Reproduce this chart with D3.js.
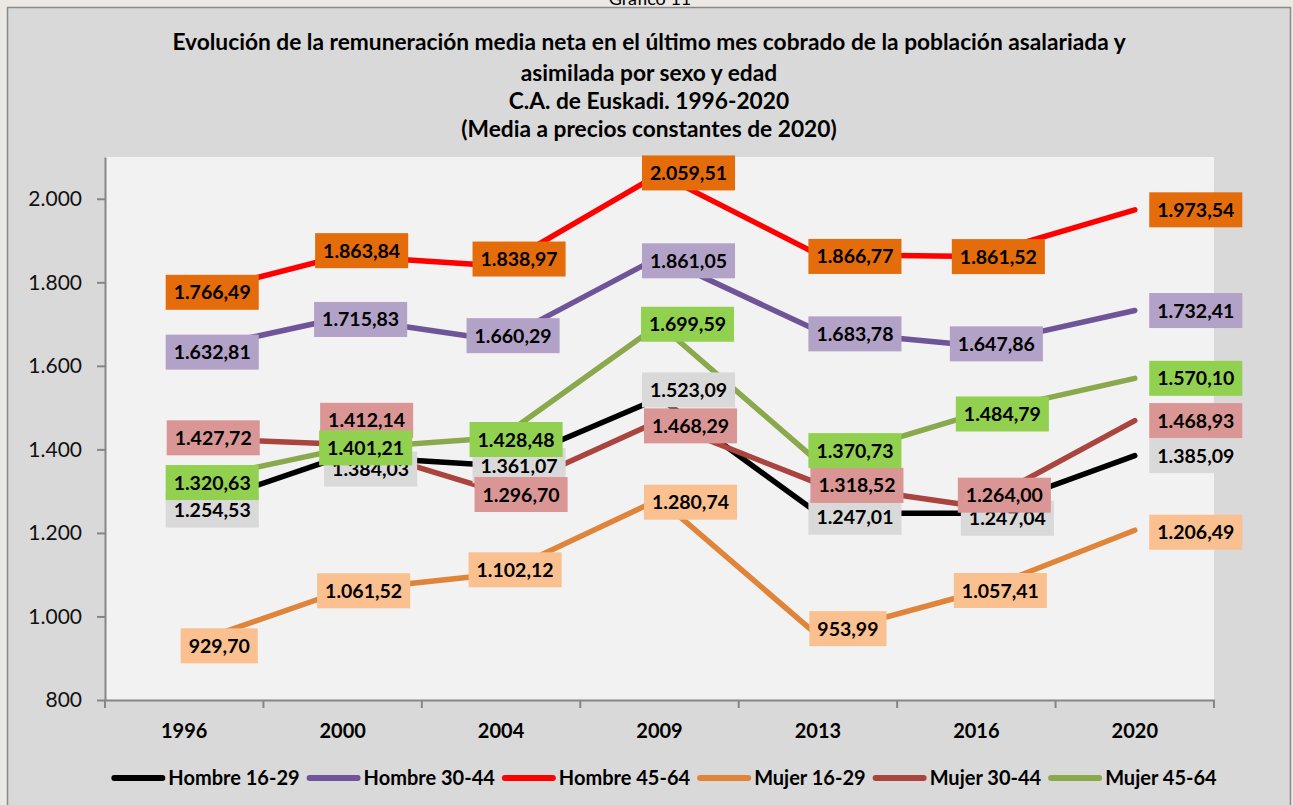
<!DOCTYPE html>
<html><head><meta charset="utf-8">
<script src="https://cdn.jsdelivr.net/npm/d3@7"></script>
<style>body{margin:0;background:#ece9e4;} svg{display:block}</style>
</head><body><svg id="c" width="1293" height="805"></svg>
<script>
// ---------- DATA ----------
const years = ["1996","2000","2004","2009","2013","2016","2020"];
const seriesNames = ["Hombre 16-29","Hombre 30-44","Hombre 45-64","Mujer 16-29","Mujer 30-44","Mujer 45-64"];
const hombre1629 = [1254.53,1384.03,1361.07,1523.09,1247.01,1247.04,1385.09];
const hombre3044 = [1632.81,1715.83,1660.29,1861.05,1683.78,1647.86,1732.41];
const hombre4564 = [1766.49,1863.84,1838.97,2059.51,1866.77,1861.52,1973.54];
const mujer1629  = [929.70,1061.52,1102.12,1280.74,953.99,1057.41,1206.49];
const mujer3044  = [1427.72,1412.14,1296.70,1468.29,1318.52,1264.00,1468.93];
const mujer4564  = [1320.63,1401.21,1428.48,1699.59,1370.73,1484.79,1570.10];
const seriesValues = [hombre1629,hombre3044,hombre4564,mujer1629,mujer3044,mujer4564];
const yTicks = [800,1000,1200,1400,1600,1800,2000];
const titleLines = [
  "Evolución de la remuneración media neta en el último mes cobrado de la población asalariada y",
  "asimilada por sexo y edad",
  "C.A. de Euskadi. 1996-2020",
  "(Media a precios constantes de 2020)"
];
const topCaption = "Gráfico 11";

// ---------- STYLE / LAYOUT ----------
const lineColors  = ["#000000","#6f5597","#ff0000","#e0843a","#a9443f","#8aa84c"];
const labelFills  = ["#d9d9d9","#b3a2c7","#e46c0a","#fac090","#d99694","#92d050"];
// label offsets from their point [dx, dy], per series, per year
const labelOffsets = [
  [[28,0],[28,13],[18,0],[29,-8],[37,4],[31,5],[61,0]],
  [[28,0],[18,2],[12,-5],[29,4],[37,3],[20,-2],[61,0]],
  [[28,-4],[19,-5],[18,-7],[29,-1],[37,2],[22,0],[61,0]],
  [[35,0],[21,0],[14,-4],[31,3],[30,-7],[24,-2],[61,2]],
  [[29,0],[24,-24],[20,2],[31,5],[39,2],[28,-11],[61,0]],
  [[28,0],[23,-1],[15,2],[28,0],[37,-11],[26,0],[61,0]]
];
const FONT = "Lato, 'Open Sans', sans-serif";
const plot = {left:105, right:1214, top:157, bottom:700};

const loc = d3.formatLocale({decimal:",", thousands:".", grouping:[3], currency:["","€"]});
const fmt2 = loc.format(",.2f");
const fmt0 = loc.format(",.0f");

const svg = d3.select("#c");
svg.append("rect").attr("width",1293).attr("height",805).attr("fill","#ece9e4");
svg.append("text").attr("x",650).attr("y",5).attr("text-anchor","middle")
  .style("font-family",FONT).style("font-size","18px").attr("fill","#000").text(topCaption);
svg.append("rect").attr("x",7.5).attr("y",7.5).attr("width",1283).attr("height",820)
  .attr("fill","#d9d9d9").attr("stroke","#8a8a8a").attr("stroke-width",1.5);

// title
const tg = svg.append("g");
const titleBase = [50,81,109,137];
const tt = tg.selectAll("text").data(titleLines).join("text")
  .attr("x",649).attr("y",(d,i)=>titleBase[i]).attr("text-anchor","middle")
  .style("font-family",FONT).style("font-weight","bold").style("font-size","19.5px")
  .attr("fill","#000").text(d=>d);
const w0 = tt.nodes()[0].getComputedTextLength();
const tfs = 19.5*954/w0;
tt.style("font-size",tfs+"px");

// scales
const x = d3.scaleBand().domain(years).range([plot.left,plot.right]);
const cx = yr => x(yr)+x.bandwidth()/2;
const y = d3.scaleLinear().domain([800,2100]).range([plot.bottom,plot.top]);

svg.append("rect").attr("x",plot.left).attr("y",plot.top)
  .attr("width",plot.right-plot.left).attr("height",plot.bottom-plot.top).attr("fill","#f2f2f2");

// y axis
const ya = svg.append("g").attr("transform",`translate(${plot.left},0)`)
  .call(d3.axisLeft(y).tickValues(yTicks).tickSize(8).tickSizeOuter(0).tickPadding(15).tickFormat(fmt0));
ya.select(".domain").attr("stroke","#868686").attr("stroke-width",2);
ya.selectAll(".tick line").attr("stroke","#868686").attr("stroke-width",2);
ya.selectAll(".tick text").style("font-family",FONT).style("font-size","21px").attr("fill","#111");

// x axis
const xa = svg.append("g").attr("transform",`translate(0,${plot.bottom})`)
  .call(d3.axisBottom(x).tickSize(0).tickSizeOuter(0).tickPadding(24));
xa.select(".domain").attr("stroke","#868686").attr("stroke-width",2);
xa.selectAll(".tick text").style("font-family",FONT).style("font-weight","bold").style("font-size","20px").attr("fill","#000");
xa.selectAll("line.bnd").data(d3.range(years.length+1)).join("line").attr("class","bnd")
  .attr("x1",i=>plot.left+i*x.step()).attr("x2",i=>plot.left+i*x.step())
  .attr("y1",0).attr("y2",8).attr("stroke","#868686").attr("stroke-width",2);

// lines
const line = d3.line().x((d,i)=>cx(years[i])).y(d=>y(d));
svg.append("g").selectAll("path").data(seriesValues).join("path")
  .attr("d",d=>line(d)).attr("fill","none")
  .attr("stroke",(d,i)=>lineColors[i]).attr("stroke-width",5.5)
  .attr("stroke-linejoin","round").attr("stroke-linecap","round");

// labels
const lg = svg.append("g");
seriesValues.forEach((vals,s)=>{
  vals.forEach((v,i)=>{
    const [dx,dy] = labelOffsets[s][i];
    const g = lg.append("g").attr("transform",`translate(${cx(years[i])+dx},${y(v)+dy})`);
    const r = g.append("rect").attr("fill",labelFills[s]);
    const t = g.append("text").attr("text-anchor","middle").attr("dy","0.36em")
      .style("font-family",FONT).style("font-weight","bold").style("font-size","19.5px")
      .attr("fill","#000").text(fmt2(v));
    const tw = t.node().getComputedTextLength();
    r.attr("x",-(tw+16)/2).attr("y",-17.5).attr("width",tw+16).attr("height",35);
  });
});

// legend
const leg = svg.append("g");
let lx = 0;
const items = [];
seriesNames.forEach((n,i)=>{
  const it = leg.append("g");
  it.append("line").attr("x1",3).attr("x2",51).attr("y1",0).attr("y2",0)
    .attr("stroke",lineColors[i]).attr("stroke-width",6).attr("stroke-linecap","round");
  const t = it.append("text").attr("x",57).attr("dy","0.36em")
    .style("font-family",FONT).style("font-weight","bold").style("font-size","20px").attr("fill","#000").text(n);
  const w = 57 + t.node().getComputedTextLength();
  items.push({it,w});
});
const gap = 7;
const total = d3.sum(items,d=>d.w)+gap*(items.length-1);
lx = 664 - total/2;
items.forEach(d=>{ d.it.attr("transform",`translate(${lx},778)`); lx += d.w+gap; });
</script>
</body></html>
